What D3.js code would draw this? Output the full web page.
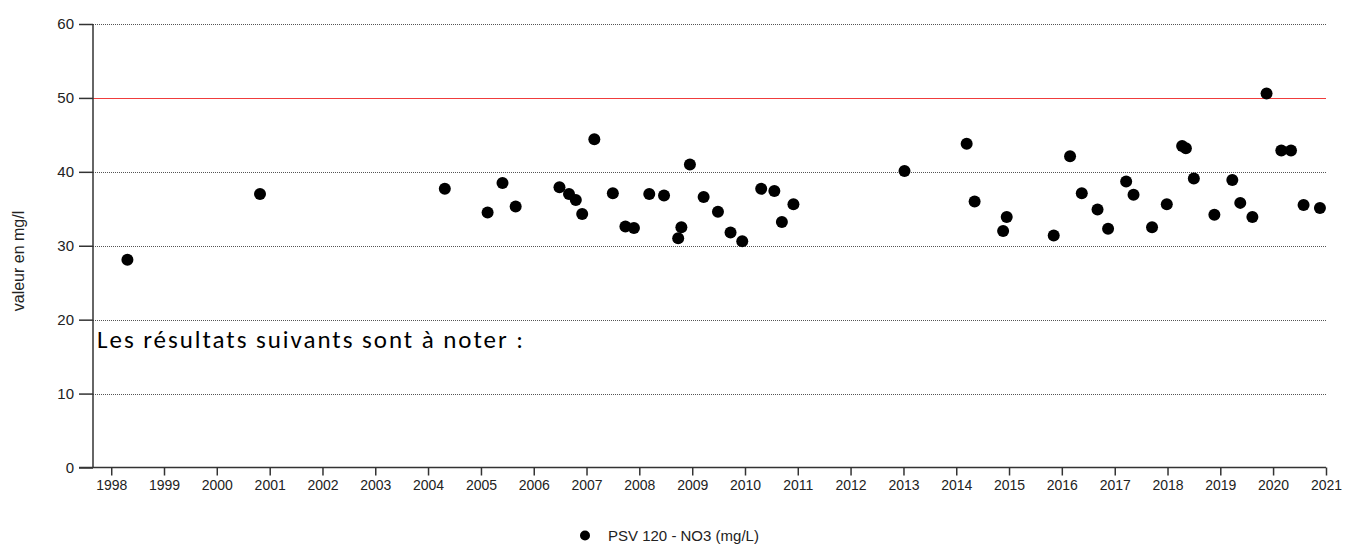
<!DOCTYPE html>
<html>
<head>
<meta charset="utf-8">
<script src="https://cdn.jsdelivr.net/npm/d3@7"></script>
<style>
  html, body { margin: 0; padding: 0; background: #fff; }
  svg { display: block; }
</style>
</head>
<body>
<div id="chart"></div>
<script>
// ---- Data ----
const sampleDates = [
  "1998-04-23","2000-10-26","2004-04-26","2005-02-16","2005-05-30","2005-08-29",
  "2006-06-28","2006-09-02","2006-10-19","2006-12-02","2007-02-24","2007-07-02",
  "2007-09-27","2007-11-25","2008-03-10","2008-06-20","2008-09-26","2008-10-18",
  "2008-12-16","2009-03-21","2009-06-28","2009-09-23","2009-12-13","2010-04-23",
  "2010-07-23","2010-09-13","2010-12-02","2013-01-08","2014-03-14","2014-05-08",
  "2014-11-21","2014-12-16","2015-11-06","2016-02-27","2016-05-18","2016-09-04",
  "2016-11-16","2017-03-21","2017-05-11","2017-09-16","2017-12-27","2018-04-12",
  "2018-05-08","2018-07-02","2018-11-21","2019-03-25","2019-05-19","2019-08-11",
  "2019-11-17","2020-02-27","2020-05-04","2020-07-30","2020-11-20"
];
const no3Values = [
  28.1, 37.0, 37.7, 34.5, 38.5, 35.3,
  37.9, 37.0, 36.2, 34.3, 44.4, 37.1,
  32.6, 32.4, 37.0, 36.8, 31.0, 32.5,
  41.0, 36.6, 34.6, 31.8, 30.6, 37.7,
  37.4, 33.2, 35.6, 40.1, 43.8, 36.0,
  32.0, 33.9, 31.4, 42.1, 37.1, 34.9,
  32.3, 38.7, 36.9, 32.5, 35.6, 43.5,
  43.2, 39.1, 34.2, 38.9, 35.8, 33.9,
  50.6, 42.9, 42.9, 35.5, 35.1
];
const yTicks = [0, 10, 20, 30, 40, 50, 60];
const xTickYears = d3.range(1998, 2022);
const limitValue = 50;
const seriesName = "PSV 120 - NO3 (mg/L)";
const yTitle = "valeur en mg/l";
const noteText = "Les résultats suivants sont à noter :";

// ---- Layout ----
const W = 1353, H = 545;
const plot = { left: 93, right: 1326, top: 24, bottom: 467.5 };

const svg = d3.select("#chart").append("svg")
  .attr("width", W).attr("height", H);

const parse = d3.timeParse("%Y-%m-%d");
const data = sampleDates.map((d, i) => ({ date: parse(d), value: no3Values[i] }));

const x = d3.scaleTime()
  .domain([new Date(1997, 7, 28), new Date(2021, 0, 1)])
  .range([plot.left, plot.right]);
const y = d3.scaleLinear().domain([0, 60]).range([plot.bottom, plot.top]);

const font = "'Liberation Sans', Arial, sans-serif";

// Gridlines (dotted)
svg.append("g")
  .selectAll("line")
  .data(yTicks.filter(v => v !== 0 && v !== limitValue))
  .join("line")
  .attr("x1", plot.left).attr("x2", plot.right)
  .attr("y1", d => Math.round(y(d)) + 0.5).attr("y2", d => Math.round(y(d)) + 0.5)
  .attr("stroke", "#555").attr("stroke-width", 1)
  .attr("stroke-dasharray", "1,1");

// Limit line (red)
svg.append("line")
  .attr("x1", plot.left).attr("x2", plot.right)
  .attr("y1", Math.round(y(limitValue)) + 0.5).attr("y2", Math.round(y(limitValue)) + 0.5)
  .attr("stroke", "#f03c3c").attr("stroke-width", 1.2);

// Y axis
const yAxis = d3.axisLeft(y).tickValues(yTicks).tickSize(14).tickPadding(5).tickFormat(d3.format("d"));
const gy = svg.append("g")
  .attr("transform", `translate(${plot.left},0)`)
  .call(yAxis);
gy.select(".domain").attr("stroke", "#333").attr("stroke-width", 1.5)
  .attr("d", `M0,${plot.top}V${plot.bottom}`);
gy.selectAll(".tick line").attr("stroke", "#333").attr("stroke-width", 1.5);
gy.selectAll(".tick text").attr("font-family", font).attr("font-size", 15).attr("fill", "#222");

// X axis
const xAxis = d3.axisBottom(x)
  .tickValues(xTickYears.map(yr => new Date(yr, 0, 1)))
  .tickSize(8).tickPadding(5)
  .tickFormat(d3.timeFormat("%Y"));
const gx = svg.append("g")
  .attr("transform", `translate(0,${plot.bottom})`)
  .call(xAxis);
gx.select(".domain").attr("stroke", "#333").attr("stroke-width", 1.5)
  .attr("d", `M${plot.left - 14},0H${plot.right}`);
gx.selectAll(".tick line").attr("stroke", "#333").attr("stroke-width", 1.5);
gx.selectAll(".tick text").attr("font-family", font).attr("font-size", 14).attr("fill", "#222");

// Y title
svg.append("text")
  .attr("transform", `translate(24,261) rotate(-90)`)
  .attr("text-anchor", "middle")
  .attr("font-family", font).attr("font-size", 16).attr("fill", "#222")
  .text(yTitle);

// Points
svg.append("g")
  .selectAll("circle")
  .data(data)
  .join("circle")
  .attr("cx", d => x(d.date))
  .attr("cy", d => y(d.value))
  .attr("r", 6)
  .attr("fill", "#000");

// Note text
svg.append("text")
  .attr("x", 97).attr("y", 348)
  .attr("font-family", "Carlito, 'Noto Sans', 'Open Sans', sans-serif")
  .attr("font-size", 25).attr("fill", "#000")
  .attr("textLength", 426).attr("lengthAdjust", "spacing")
  .text(noteText);

// Legend
const lg = svg.append("g");
lg.append("circle").attr("cx", 585).attr("cy", 535.5).attr("r", 5).attr("fill", "#000");
lg.append("text").attr("x", 608).attr("y", 541)
  .attr("font-family", font).attr("font-size", 15).attr("fill", "#222")
  .text(seriesName);
</script>
</body>
</html>
